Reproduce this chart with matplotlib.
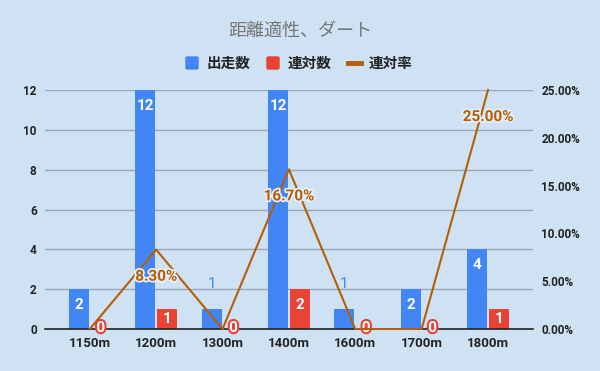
import matplotlib
matplotlib.use("Agg")
import matplotlib.pyplot as plt
import matplotlib.patheffects as pe
from matplotlib.patches import FancyBboxPatch
from matplotlib.lines import Line2D
import numpy as np

categories = ["1150m", "1200m", "1300m", "1400m", "1600m", "1700m", "1800m"]
starts = [2, 12, 1, 12, 1, 2, 4]          # 出走数
top2 = [0, 1, 0, 2, 0, 0, 1]              # 連対数
rate = [0.0, 0.083, 0.0, 0.167, 0.0, 0.0, 0.25]  # 連対率
left_ticks = [0, 2, 4, 6, 8, 10, 12]
right_ticks = [0, 0.05, 0.10, 0.15, 0.20, 0.25]

BG = "#cfe2f3"
BLUE = "#4285f4"
RED = "#ea4335"
ORANGE = "#b45f06"
NUM_FONT = ["Roboto", "DejaVu Sans"]
CJK_FONT = ["Noto Sans CJK JP", "DejaVu Sans"]

fig = plt.figure(figsize=(6.0, 3.71), dpi=100, facecolor=BG)
ax = fig.add_axes([0.075, 0.1132, 0.888 - 0.075, 0.7574 - 0.1132])
ax.set_facecolor(BG)

x = np.arange(len(categories))
w = 0.30
off = 0.165
ax.bar(x - off, starts, width=w, color=BLUE, zorder=2)
ax.bar(x + off, top2, width=w, color=RED, zorder=2)

ax.set_xlim(-0.675, len(categories) - 1 + 0.675)
ax.set_ylim(0, 12)
ax.set_yticks(left_ticks)
ax.set_yticklabels([str(t) for t in left_ticks], fontfamily=NUM_FONT,
                   fontweight="bold", fontsize=8.5, color="#222222")
ax.set_xticks(x)
ax.set_xticklabels(categories, fontfamily=NUM_FONT, fontweight="bold",
                   fontsize=9.5, color="#222222")
ax.tick_params(axis="both", length=0)
ax.tick_params(axis="x", pad=6)
ax.tick_params(axis="y", pad=6)
ax.grid(axis="y", color="#9aa8b6", linewidth=1.0, zorder=0)
for s in ["top", "right", "left"]:
    ax.spines[s].set_visible(False)
ax.spines["bottom"].set_color("#222222")
ax.spines["bottom"].set_linewidth(1.2)
ax.spines["bottom"].set_zorder(3)

px = 12 / 239.0  # data units per pixel on left axis

# bar labels
for xi, v in zip(x - off, starts):
    if v >= 2:
        y = max(v - 16 * px, v / 2)
        ax.text(xi, y, str(v), ha="center", va="center", color="white",
                fontweight="bold", fontsize=11, fontfamily=NUM_FONT, zorder=5)
    else:
        ax.text(xi, v + 25 * px, str(v), ha="center", va="center", color=BLUE,
                fontsize=11, fontfamily=NUM_FONT, zorder=5)
for xi, v in zip(x + off, top2):
    if v > 0:
        y = max(v - 16 * px, v / 2)
        ax.text(xi, y, str(v), ha="center", va="center", color="white",
                fontweight="bold", fontsize=11, fontfamily=NUM_FONT, zorder=5)
    else:
        ax.text(xi, 0.05, str(v), ha="center", va="center", color="white",
                fontweight="bold", fontsize=11, fontfamily=NUM_FONT, zorder=6,
                path_effects=[pe.withStroke(linewidth=3, foreground=RED)])

# line on right axis
ax2 = ax.twinx()
ax2.set_ylim(0, 0.25)
ax2.plot(x, rate, color=ORANGE, linewidth=1.5, zorder=4, clip_on=False)
ax2.set_yticks(right_ticks)
ax2.set_yticklabels(["%.2f%%" % (t * 100) for t in right_ticks],
                    fontfamily=NUM_FONT, fontweight="bold", fontsize=8.5,
                    color="#222222")
ax2.tick_params(axis="y", length=0, pad=6)
for s in ["top", "right", "left", "bottom"]:
    ax2.spines[s].set_visible(False)
for xi, r in zip(x, rate):
    if r > 0:
        ax2.annotate("%.2f%%" % (r * 100), (xi, r), xytext=(0, -19.5),
                     textcoords="offset points", ha="center", va="center",
                     color=ORANGE, fontweight="bold", fontsize=11,
                     fontfamily=NUM_FONT, zorder=6,
                     path_effects=[pe.withStroke(linewidth=2.5, foreground="#e6eff8")])

# title
fig.text(300 / 600, 1 - 31 / 371, "距離適性、ダート", ha="center", va="center",
         fontsize=13, color="#757575", fontfamily=CJK_FONT)

# legend (manual)
ly = 1 - 63 / 371
def sq(x0, color):
    fig.patches.append(FancyBboxPatch((x0 / 600, ly - 6 / 371), 12 / 600, 12 / 371,
                                      boxstyle="round,pad=0,rounding_size=0.003",
                                      transform=fig.transFigure, color=color))
sq(186, BLUE)
fig.text(207 / 600, ly, "出走数", ha="left", va="center", fontsize=10.5,
         fontweight="bold", color="#222222", fontfamily=CJK_FONT)
sq(267, RED)
fig.text(288 / 600, ly, "連対数", ha="left", va="center", fontsize=10.5,
         fontweight="bold", color="#222222", fontfamily=CJK_FONT)
fig.lines.append(Line2D([348 / 600, 361 / 600], [ly, ly], transform=fig.transFigure,
                        color=ORANGE, linewidth=3.5))
fig.text(369 / 600, ly, "連対率", ha="left", va="center", fontsize=10.5,
         fontweight="bold", color="#222222", fontfamily=CJK_FONT)

fig.savefig("out.png", dpi=100, facecolor=BG)
